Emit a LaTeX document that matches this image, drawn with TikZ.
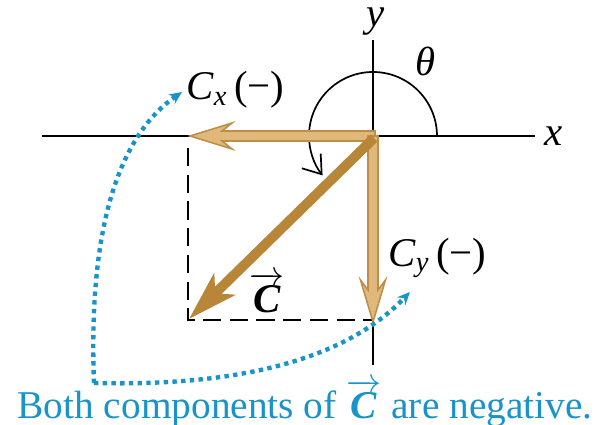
\documentclass[tikz,border=0pt]{standalone}
\usepackage{amsmath}
\usepackage{fontspec}
\setmainfont{Liberation Serif}
\usepackage{tikz}
\usetikzlibrary{arrows.meta,calc}
\definecolor{vecdark}  {RGB}{184, 134,  56}
\definecolor{vecedge}  {RGB}{190, 142,  72}
\definecolor{veclight} {RGB}{224, 184, 124}
\definecolor{noteblue} {RGB}{ 24, 148, 200}
\newcommand{\vecC}{\ensuremath{\overrightarrow{\mbox{\textbf{\textit{C}}}}}}

\begin{document}
\begin{tikzpicture}[
  x=0.025cm,y=0.025cm,
  lbl/.style={font=\rmfamily\fontsize{29}{32}\selectfont,inner sep=0pt},
  axis/.style={line width=1.3pt,black},
  comp/.style={draw=vecedge,fill=veclight,line width=1.1pt,line join=miter},
  vecarr/.style={vecdark,line width=7pt,-{Stealth[length=35pt,width=21pt,inset=9pt]}},
  dashbox/.style={line width=1.4pt,dash pattern=on 13pt off 6pt},
  note/.style={noteblue,line width=3.1pt,dash pattern=on 3.1pt off 3.1pt,
               -{Stealth[length=9pt,width=8pt]}},
  anglearr/.style={line width=1.2pt,-{Straight Barb[length=12pt,width=17pt]}},
]
\useasboundingbox (0,0) rectangle (608,425);

%% axes
\coordinate (O) at (373,289);
\coordinate (xl) at (42,289);
\coordinate (xr) at (535,289);
\coordinate (yt) at (373,385);
\coordinate (yb) at (373,60);
\draw[axis] (xl) -- (xr);
\draw[axis] (yb) -- (yt);
\node[lbl] (xlab) at (554,289) {\textit{x}};
\node[lbl] (ylab) at (376,403) {\textit{y}};

%% angle theta
\draw[anglearr] ($(O)+(64,0)$) arc[start angle=0,end angle=218,radius=64];
\node[lbl] (thlab) at (426,364) {\textit{θ}};

%% dashed completion
\coordinate (Ctip) at (189,106);
\coordinate (Cxtip) at (190,289);
\coordinate (Cytip) at (373,103);
\draw[dashbox] (188,277) -- (188,105) -- (373,105);

%% components
\draw[comp] ($(O)+(2,-5)$) -- ($(Cxtip)+(32,-5)$) -- ($(Cxtip)+(42,-13)$) -- (Cxtip)
  -- ($(Cxtip)+(42,13)$) -- ($(Cxtip)+(32,5)$) -- ($(O)+(2,5)$) -- cycle;
\draw[comp] ($(O)+(-5,0)$) -- ($(Cytip)+(-5,32)$) -- ($(Cytip)+(-12.5,42)$) -- (Cytip)
  -- ($(Cytip)+(12.5,42)$) -- ($(Cytip)+(5,32)$) -- ($(O)+(5,0)$) -- cycle;

%% vector C
\draw[vecarr] ($(O)+(1,-2)$) -- (Ctip);

%% labels
\node[lbl,anchor=west] (cxlab) at (186,335) {\textit{C}\textsubscript{\textit{x}}\,(−)};
\node[lbl,anchor=west] (cylab) at (388,167) {\textit{C}\textsubscript{\textit{y}}\,(−)};
\node[lbl] (clab) at (267,132) {\vecC};

%% note
\coordinate (corner) at (94,42);
\node[lbl,noteblue,font=\rmfamily\fontsize{28}{32}\selectfont] (note) at (305,22)
  {Both components of \vecC\ are negative.};
\draw[note] (corner) .. controls (88,200) and (120,290) .. (182,333);
\draw[note] (corner) .. controls (250,38) and (350,70) .. (410,133);
\end{tikzpicture}
\end{document}
